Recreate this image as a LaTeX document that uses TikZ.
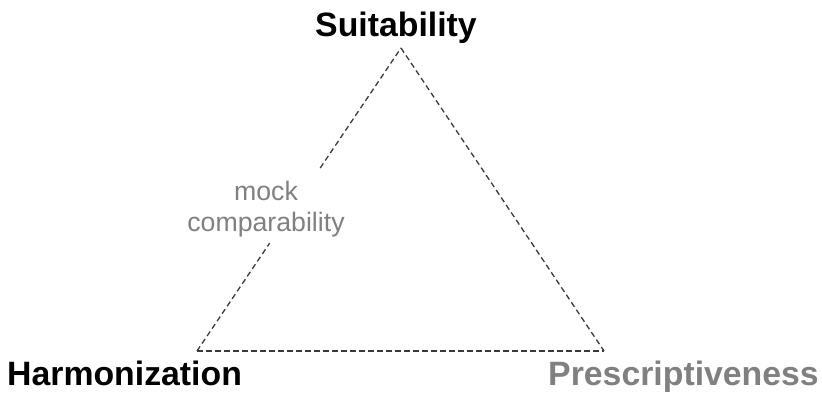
\documentclass[tikz,border=0pt]{standalone}
\usepackage{fontspec}
\setmainfont{Liberation Sans}
\usetikzlibrary{calc}
\definecolor{edgegray}{HTML}{3A3A3A}
\definecolor{labgray}{HTML}{808080}
\begin{document}
\begin{tikzpicture}[x=1bp,y=-1bp,
  edge/.style={draw=edgegray,line width=1.3bp,dash pattern=on 5.5bp off 3.5bp},
  corner/.style={inner sep=0pt,font=\fontsize{33.8bp}{40bp}\selectfont\bfseries},
  midlabel/.style={inner sep=0pt,align=center,text=labgray,font=\fontsize{26.7bp}{31bp}\selectfont}]
\useasboundingbox (0,0) rectangle (822,393);
\coordinate (S) at (401,48);
\coordinate (H) at (197,351);
\coordinate (P) at (604,351);
\coordinate (g1) at ($(H)!0.356!(S)$);
\coordinate (g2) at ($(H)!0.604!(S)$);
\draw[edge] (H) -- (g1);
\draw[edge] (g2) -- (S);
\draw[edge] (S) -- (P);
\draw[edge] (H) -- (P);
\node[corner,anchor=base] (suit) at (396,36) {Suitability};
\node[corner,anchor=base west] (harm) at (7,385) {Harmonization};
\node[corner,anchor=base east,text=labgray] (pres) at (819,385) {Prescriptiveness};
\node[midlabel] (mock) at (266,209) {mock\\comparability};
\end{tikzpicture}
\end{document}
